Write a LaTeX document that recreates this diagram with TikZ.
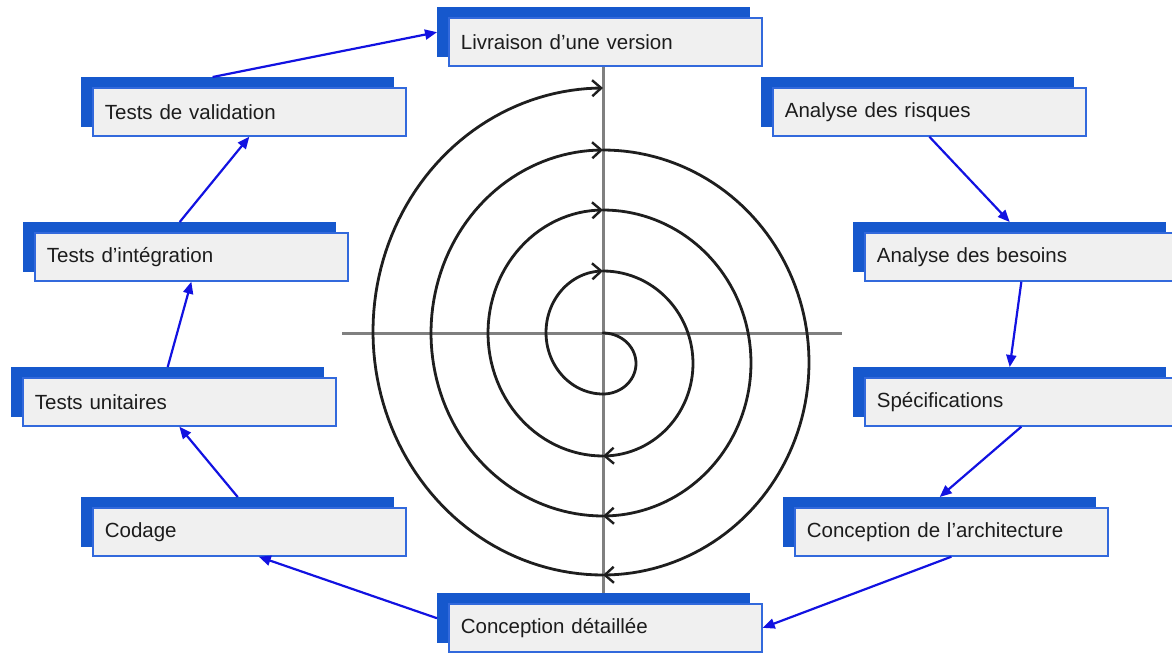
\documentclass[tikz,border=0pt]{standalone}
\usepackage{fontspec}
\setmainfont{Liberation Sans}
\usetikzlibrary{arrows.meta,calc}
\definecolor{backblue}{RGB}{22,88,205}
\definecolor{edgeblue}{RGB}{50,105,220}
\definecolor{frontgray}{RGB}{240,240,240}
\definecolor{linkblue}{RGB}{18,18,225}
\definecolor{axisgray}{RGB}{128,128,128}
\definecolor{spiralink}{RGB}{30,30,30}
\definecolor{textdark}{RGB}{28,28,28}
\tikzset{
  backbox/.style={fill=backblue, draw=none, minimum width=313pt, minimum height=50pt, anchor=north west, inner sep=0pt},
  frontbox/.style={fill=frontgray, draw=edgeblue, line width=1.7pt, minimum width=313pt, minimum height=48pt,
    anchor=north west, text width=289pt, align=left, inner xsep=12pt, inner ysep=0pt,
    font=\fontsize{20.5}{24}\selectfont, text=textdark},
  link/.style={draw=linkblue, line width=2.2pt, -{Triangle[length=12pt,width=10pt]}},
  axisline/.style={draw=axisgray, line width=3pt},
  spiral/.style={draw=spiralink, line width=2.8pt, line cap=round},
  spiralarrow/.style={spiral, -{Straight Barb[length=9pt,width=16pt,line width=2.4pt]}}
}
\begin{document}
\begin{tikzpicture}[x=1pt,y=-1pt]
\useasboundingbox (0,0) rectangle (1172,653);
\clip (0,0) rectangle (1172,653);
% boxes
\node[backbox] (bk-liv) at (437,7) {};
\node[frontbox] (liv) at (448,17) {Livraison d’une version};
\node[backbox] (bk-ris) at (761,77) {};
\node[frontbox] (ris) at (772,87) {Analyse des risques};
\node[backbox] (bk-bes) at (853,222) {};
\node[frontbox] (bes) at (864,232) {Analyse des besoins};
\node[backbox] (bk-spe) at (853,367) {};
\node[frontbox] (spe) at (864,377) {Spécifications};
\node[backbox] (bk-arc) at (783,497) {};
\node[frontbox] (arc) at (794,507) {Conception de l’architecture};
\node[backbox] (bk-det) at (437,593) {};
\node[frontbox] (det) at (448,603) {Conception détaillée};
\node[backbox] (bk-cod) at (81,497) {};
\node[frontbox] (cod) at (92,507) {Codage};
\node[backbox] (bk-uni) at (11,367) {};
\node[frontbox] (uni) at (22,377) {Tests unitaires};
\node[backbox] (bk-int) at (23,222) {};
\node[frontbox] (int) at (34,232) {Tests d’intégration};
\node[backbox] (bk-val) at (81,77) {};
\node[frontbox] (val) at (92,87) {Tests de validation};
% axes
\coordinate (ctr) at (603,333);
\coordinate (hl) at (342,333);
\coordinate (hr) at (842,333);
\draw[axisline] (ctr |- liv.south) -- (ctr |- bk-det.north);
\draw[axisline] (hl) -- (hr);
% spiral
\draw[spiral] plot[domain=-90:90,samples=40] ({603+33*cos(\x)},{363.5+30.5*sin(\x)});
\draw[spiralarrow] plot[domain=90:270,samples=60] ({603+57*cos(\x)},{332.5+61.5*sin(\x)});
\draw[spiralarrow] plot[domain=-90:90,samples=60] ({603+90*cos(\x)},{363.5+92.5*sin(\x)});
\draw[spiralarrow] plot[domain=90:270,samples=60] ({603+115*cos(\x)},{333+123*sin(\x)});
\draw[spiralarrow] plot[domain=-90:90,samples=80] ({603+148*cos(\x)},{363+153*sin(\x)});
\draw[spiralarrow] plot[domain=90:270,samples=80] ({603+172*cos(\x)},{333+183*sin(\x)});
\draw[spiralarrow] plot[domain=-90:90,samples=90] ({603+206*cos(\x)},{362.5+212.5*sin(\x)});
\draw[spiralarrow] plot[domain=90:270,samples=90] ({603+230*cos(\x)},{331.5+243.5*sin(\x)});
% links
\draw[link] ($(bk-val.north west)!0.42!(bk-val.north east)$) -- (bk-liv.west);
\draw[link] (bk-int.north) -- (val.south);
\draw[link] (bk-uni.north) -- (int.south);
\draw[link] (bk-cod.north) -- (uni.south);
\draw[link] (bk-det.west) -- ($(cod.south west)!0.53!(cod.south east)$);
\draw[link] (arc.south) -- (det.east);
\draw[link] (spe.south) -- (bk-arc.north);
\draw[link] (bes.south) -- (bk-spe.north);
\draw[link] (ris.south) -- (bk-bes.north);
\end{tikzpicture}
\end{document}
